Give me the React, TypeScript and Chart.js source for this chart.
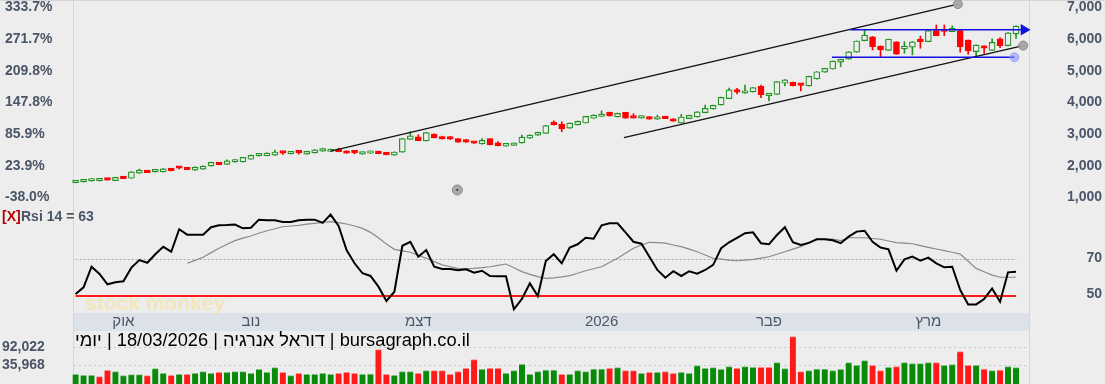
import React, { useEffect, useRef } from 'react';
import { Chart, registerables } from 'chart.js';

Chart.register(...registerables);

const FONT = "'Liberation Sans', Arial, sans-serif";
const AXIS_COLOR = '#4a5568';
const BG = '#ededed';

// ---------- DATA ----------
const opens = [1420,1445,1475,1480,1545,1485,1610,1560,1720,1765,1760,1760,1815,1890,1885,1815,1845,1950,2030,2000,
  2075,2075,2160,2265,2270,2290,2365,2330,2370,2320,2360,2415,2405,2465,2420,2370,2320,2350,2400,2365,
  2290,2385,2790,2870,2740,2955,2880,2870,2810,2725,2705,2645,2810,2680,2570,2600,2675,2825,2920,2980,
  3305,3265,3140,3245,3305,3455,3510,3640,3500,3640,3490,3460,3505,3425,3460,3440,3305,3445,3495,3630,
  3750,3875,4075,4325,4245,4285,4465,4170,4210,4560,4590,4510,4475,4695,4910,5010,5225,5320,5540,5905,
  6030,5735,5600,5865,5645,5700,5925,5875,6220,6215,6190,6220,5925,5560,5745,5600,5960,5745,6120];
const highs = [1490,1500,1550,1555,1555,1595,1620,1775,1850,1775,1845,1870,1860,1935,1890,1920,1950,2070,2035,2145,
  2150,2225,2290,2330,2360,2450,2400,2395,2410,2415,2465,2510,2480,2510,2425,2420,2390,2425,2405,2370,
  2395,2815,3030,2935,3005,2965,2890,2880,2815,2790,2710,2810,2815,2715,2665,2670,2925,2935,3015,3225,
  3375,3345,3310,3370,3520,3565,3690,3650,3620,3645,3600,3530,3510,3555,3515,3445,3580,3550,3665,3870,
  3870,4120,4410,4400,4505,4425,4505,4215,4615,4680,4595,4515,4785,4930,5035,5265,5320,5560,5900,6240,
  6035,5740,5955,5870,5875,5875,6050,6225,6400,6400,6370,6225,5930,5770,5750,5960,6000,6160,6370];
const lows = [1415,1440,1470,1475,1495,1480,1545,1555,1715,1735,1755,1755,1790,1850,1830,1810,1840,1945,1985,1995,
  2070,2070,2155,2260,2265,2285,2310,2325,2320,2315,2355,2410,2400,2395,2345,2330,2315,2345,2335,2300,
  2285,2380,2785,2745,2735,2835,2795,2790,2695,2695,2660,2640,2615,2585,2565,2595,2670,2820,2915,2975,
  3240,3030,3135,3240,3300,3450,3505,3520,3495,3450,3455,3455,3420,3420,3440,3355,3300,3440,3490,3625,
  3745,3870,4070,4220,4240,4280,4105,4000,4205,4480,4480,4320,4470,4690,4905,5005,5085,5315,5535,5900,
  5610,5370,5595,5470,5505,5455,5665,5870,6060,6060,6185,5540,5475,5400,5505,5595,5685,5740,5980];
const closes = [1483,1495,1545,1545,1500,1590,1550,1765,1820,1740,1820,1860,1800,1875,1835,1915,1945,2060,1990,2110,
  2145,2220,2285,2325,2355,2390,2355,2385,2360,2410,2460,2475,2470,2400,2350,2360,2385,2420,2340,2305,
  2390,2810,2900,2750,3000,2840,2800,2795,2700,2700,2665,2755,2620,2590,2660,2660,2860,2925,3010,3220,
  3245,3120,3305,3355,3515,3555,3555,3530,3610,3455,3460,3525,3425,3470,3445,3360,3495,3545,3660,3770,
  3860,4115,4355,4280,4300,4420,4200,4210,4610,4670,4485,4495,4780,4925,5030,5260,5315,5555,5895,6080,
  5715,5610,5950,5475,5735,5870,5875,6220,6065,6195,6295,5715,5580,5765,5665,5850,5745,6155,6365];

const volumes = [7380,4320,4320,230,19630,15550,3300,6360,6360,3300,24740,10440,4320,7380,7380,10440,15550,10440,13510,13510,
  15550,15550,10440,22700,13510,27800,13510,3300,10440,7380,7380,10440,7380,10440,13510,10440,7380,8400,82930,7380,
  4320,15550,15550,10440,18610,18610,18610,7380,15550,25760,52300,22700,25760,25760,10440,18610,38010,7380,15550,20650,
  20650,7380,7380,18610,15550,23720,23720,25760,27800,18610,18610,10440,13510,13510,15550,10440,13510,10440,33930,25760,
  27800,22700,30860,25760,30860,28820,28820,28820,43120,24740,122750,15550,18610,23720,23720,18610,22700,43120,34950,49240,
  34950,18610,28820,30860,43120,40050,40050,43120,43120,34950,36990,76810,34950,34950,23720,18610,20650,30860,27800];
const volumeDirection = ('uuudduuuud' + 'uududuuudu' + 'uuuuuududu' + 'uuuddduudd' + 'uuududdddd' +
  'dudduuuuuu' + 'uduuuuudud' + 'dududduuuu' + 'uuuduudduu' + 'dduuuuuuuu' + 'dduduuuudu' + 'uddududuu').split('');

const rsi14 = [50.9,54.6,66,62,56.3,57.4,58,65.5,69.7,68.2,72.9,77,74.3,86.7,83.7,83.7,83.7,87.8,88.9,89,
  89.3,87.2,87.5,92,91.7,91.7,90.7,90.7,91.7,92,92,90.2,94.8,88.5,75.2,67.9,62.4,60.9,55,47.1,
  52.2,77.6,79.8,71.5,75.2,66,64.8,64.8,64,64.6,62.7,63.8,60.9,60.7,60.7,42.5,48.2,56.8,49.8,69.2,
  72.9,67.9,76.6,78.4,82,81.5,88.9,90,90,85,79.8,78.7,71.5,64.2,59.9,63.5,60.9,63.5,62.2,64.2,
  67,76.2,79.5,82,84.5,85,79,78.4,83.5,87.8,79.5,78,79.2,81.2,81.2,80.6,79,82.6,85.4,85.9,
  79.8,76.6,75.6,63.8,70.1,71.6,69.3,71,67.9,65.7,66,53.1,45.2,45.2,48.2,54,46.7,62.9,63.2];
const rsiSignal = [null,null,null,null,null,null,null,null,null,null,null,null,null,null,
  67.9,69.5,71.2,73.8,76.2,78.4,80.4,81.8,83,84.5,85.9,87,88.1,88.5,88.9,89.5,90,90.5,90.9,90.4,89.6,88.5,87.2,85,82,78.5,
  75.6,74.8,74,72.3,70.7,68.8,67,66,65.1,65,65.1,65.5,66,66.8,67.5,65.4,63.3,61.8,60.5,59.6,
  59.8,60.4,61.1,62.4,63.8,64.9,66,68.3,70.7,73.5,76.2,78,79.5,79.3,79,78,77.1,75.7,74.3,72.5,
  70.7,70.2,69.7,69.3,69.7,70.1,70.8,71.5,72.9,74.3,75.7,77.1,79.2,81.2,81.2,81.2,80.4,82,82,82,
  81.6,81.2,80.2,79.3,79,78.7,77.7,76.7,75.8,74.9,74,73,69,65.1,63.2,61.4,60.2,60.2,60.2];

const priceTicks = [1000, 2000, 3000, 4000, 5000, 6000, 7000];
const percentBase = 1614.1;
const rsiTicks = [50, 70];
const rsiOverbought = 70;
const rsiMid = 50;
const volumeTicks = [35968, 92022];
const monthTickIdx = [6, 22, 43, 66, 87, 107];
const monthLabels = ['אוק', 'נוב', 'דצמ', '2026', 'פבר', 'מרץ'];

// drawn annotations (candle index, price)
const upperChannel = [{ x: 32, y: 2420 }, { x: 110.7, y: 7060 }];
const lowerChannel = [{ x: 68.8, y: 2840 }, { x: 118.9, y: 5750 }];
const resistanceLine = [{ x: 97.2, y: 6250 }, { x: 119.0, y: 6250 }];
const supportLine = [{ x: 94.9, y: 5380 }, { x: 117.8, y: 5380 }];
const strayAnchor = [{ x: 47.9, y: 1190 }];

const titleText = 'bursagraph.co.il | דוראל אנרגיה | 18/03/2026 | יומי';
const watermark = 'stock monkey';

// ---------- LAYOUT ----------
const X_MIN = -0.2;
const X_MAX = 119.63;
const P_MIN = 652.6;
const P_MAX = 7189.5;
const RSI_MIN = 40.44;
const RSI_MAX = 99.0;
const VOL_MIN = -22231;
const VOL_MAX = 140113;

const GREEN = '#229322';
const RED = '#ff0000';

const tickFont = { family: FONT, size: 14, weight: 'bold' as const };

function fit(width: number) {
  return (s: any) => {
    s.width = width;
    s.paddingTop = 0;
    s.paddingBottom = 0;
  };
}

function setTicks(values: number[]) {
  return (s: any) => {
    s.ticks = values.map((v) => ({ value: v }));
  };
}

function framePlugin(topLine: boolean) {
  return {
    id: 'frame',
    beforeDraw(chart: any) {
      const { ctx, width, height, chartArea } = chart;
      ctx.save();
      ctx.fillStyle = BG;
      ctx.fillRect(0, 0, width, height);
      ctx.fillStyle = '#d6d6d6';
      ctx.fillRect(Math.round(chartArea.left) - 1, 0, 1, height);
      ctx.fillRect(Math.round(chartArea.right), 0, 1, height);
      if (topLine) ctx.fillRect(0, 0, width, 1);
      ctx.restore();
    },
  };
}

const idx = closes.map((_, i) => i);
const isUp = idx.map((i) => closes[i] >= opens[i]);

export default function App() {
  const mainRef = useRef<HTMLCanvasElement>(null);
  const rsiRef = useRef<HTMLCanvasElement>(null);
  const volRef = useRef<HTMLCanvasElement>(null);

  useEffect(() => {
    document.body.style.margin = '0';
    document.body.style.background = BG;
    const charts: Chart[] = [];

    const gray = 'rgba(165,165,165,0.95)';
    const grayBorder = '#8a8a8a';

    // ---------- MAIN PRICE CHART ----------
    charts.push(
      new Chart(mainRef.current!, {
        type: 'bar',
        data: {
          datasets: [
            {
              data: idx.map((i) => ({ x: i, y: [lows[i], highs[i]] })),
              backgroundColor: idx.map((i) => (isUp[i] ? GREEN : RED)),
              borderWidth: 0,
              barThickness: 1,
              grouped: false,
              order: 5,
              clip: false,
            } as any,
            {
              data: idx.map((i) => ({ x: i, y: [opens[i], closes[i]] })),
              backgroundColor: idx.map((i) => (isUp[i] ? BG : RED)),
              borderColor: idx.map((i) => (isUp[i] ? GREEN : RED)),
              borderWidth: 1.2,
              borderSkipped: false,
              barThickness: 6,
              minBarLength: 2.5,
              grouped: false,
              order: 4,
              clip: false,
            } as any,
            {
              type: 'line',
              data: upperChannel,
              borderColor: '#111',
              borderWidth: 1.3,
              pointRadius: [0, 4.5],
              pointBackgroundColor: gray,
              pointBorderColor: grayBorder,
              pointBorderWidth: 1,
              order: 2,
              clip: false,
            } as any,
            {
              type: 'line',
              data: lowerChannel,
              borderColor: '#111',
              borderWidth: 1.3,
              pointRadius: [0, 4.5],
              pointBackgroundColor: gray,
              pointBorderColor: grayBorder,
              pointBorderWidth: 1,
              order: 2,
              clip: false,
            } as any,
            {
              type: 'line',
              data: resistanceLine,
              borderColor: '#1010e0',
              borderWidth: 1.5,
              pointRadius: [0, 5],
              pointStyle: 'triangle',
              pointRotation: 90,
              pointBackgroundColor: '#1010e0',
              pointBorderColor: '#1010e0',
              order: 1,
              clip: false,
            } as any,
            {
              type: 'line',
              data: supportLine,
              borderColor: '#1010e0',
              borderWidth: 1.5,
              pointRadius: [0, 4.5],
              pointBackgroundColor: 'rgba(130,140,255,0.55)',
              pointBorderColor: 'rgba(150,160,255,0.8)',
              pointBorderWidth: 1,
              order: 1,
              clip: false,
            } as any,
            {
              type: 'line',
              data: strayAnchor,
              showLine: false,
              pointRadius: 5,
              pointBackgroundColor: gray,
              pointBorderColor: grayBorder,
              pointBorderWidth: 1,
              order: 1,
              clip: false,
            } as any,
            {
              type: 'line',
              data: strayAnchor,
              showLine: false,
              pointRadius: 1,
              pointBackgroundColor: '#333',
              pointBorderWidth: 0,
              order: 0,
              clip: false,
            } as any,
          ],
        },
        options: {
          responsive: false,
          animation: false,
          events: [],
          layout: { autoPadding: false, padding: { left: 5, right: 3, top: 0, bottom: 0 } },
          plugins: { legend: { display: false }, tooltip: { enabled: false } },
          scales: {
            x: { type: 'linear', display: false, min: X_MIN, max: X_MAX, offset: false },
            y: {
              type: 'linear',
              position: 'right',
              min: P_MIN,
              max: P_MAX,
              afterBuildTicks: setTicks(priceTicks),
              afterFit: fit(73),
              grid: { display: false },
              border: { display: false },
              ticks: {
                color: AXIS_COLOR,
                font: tickFont,
                crossAlign: 'far',
                padding: 0,
                labelOffset: 1.5,
                callback: (v: any) => Number(v).toLocaleString('en-US'),
              },
            },
            yPct: {
              type: 'linear',
              position: 'left',
              min: (P_MIN / percentBase - 1) * 100,
              max: (P_MAX / percentBase - 1) * 100,
              afterBuildTicks: setTicks(priceTicks.map((p) => (p / percentBase - 1) * 100)),
              afterFit: fit(69),
              grid: { display: false },
              border: { display: false },
              ticks: {
                color: AXIS_COLOR,
                font: tickFont,
                crossAlign: 'far',
                padding: 0,
                labelOffset: 1.5,
                callback: (v: any) => Number(v).toFixed(1) + '%',
              },
            },
          },
        } as any,
        plugins: [framePlugin(true)],
      })
    );

    // ---------- RSI CHART ----------
    const rsiLabel = `Rsi 14 = ${Math.round(rsi14[rsi14.length - 1])}`;
    charts.push(
      new Chart(rsiRef.current!, {
        type: 'line',
        data: {
          datasets: [
            {
              data: rsi14.map((v, i) => ({ x: i, y: v })),
              borderColor: '#000',
              borderWidth: 2,
              pointRadius: 0,
              tension: 0,
              order: 1,
            },
            {
              data: rsiSignal.map((v, i) => ({ x: i, y: v })).filter((p) => p.y !== null),
              borderColor: '#8a8a8a',
              borderWidth: 1.2,
              pointRadius: 0,
              tension: 0,
              order: 2,
            },
          ],
        },
        options: {
          responsive: false,
          animation: false,
          events: [],
          layout: { autoPadding: false, padding: { left: 74, right: 3, top: 0, bottom: 0 } },
          plugins: { legend: { display: false }, tooltip: { enabled: false } },
          scales: {
            x: {
              type: 'linear',
              position: 'bottom',
              min: X_MIN,
              max: X_MAX,
              afterBuildTicks: setTicks(monthTickIdx),
              afterFit: (s: any) => {
                s.height = 18;
                s.paddingLeft = 0;
                s.paddingRight = 0;
              },
              grid: { display: false, drawTicks: false },
              border: { display: false },
              ticks: {
                autoSkip: false,
                maxRotation: 0,
                padding: 0,
                color: AXIS_COLOR,
                font: { family: FONT, size: 15 },
                callback: (v: any) => monthLabels[monthTickIdx.indexOf(Number(v))] ?? '',
              },
            },
            y: {
              type: 'linear',
              position: 'right',
              min: RSI_MIN,
              max: RSI_MAX,
              afterBuildTicks: setTicks(rsiTicks),
              afterFit: fit(73),
              grid: { display: false },
              border: { display: false },
              ticks: {
                color: AXIS_COLOR,
                font: tickFont,
                crossAlign: 'far',
                padding: 0,
                labelOffset: -1.5,
              },
            },
          },
        } as any,
        plugins: [
          framePlugin(false),
          {
            id: 'band',
            beforeDraw(chart: any) {
              const { ctx, chartArea, scales } = chart;
              ctx.save();
              ctx.fillStyle = '#dde2e9';
              ctx.fillRect(chartArea.left, chartArea.bottom, chartArea.right - chartArea.left, scales.x.height);
              ctx.restore();
            },
          },
          {
            id: 'rsiLevels',
            beforeDatasetsDraw(chart: any) {
              const { ctx, scales } = chart;
              const x0 = scales.x.getPixelForValue(0);
              const x1 = scales.x.getPixelForValue(rsi14.length - 1);
              ctx.save();
              // watermark
              ctx.font = `bold 21px ${FONT}`;
              ctx.fillStyle = 'rgba(255,214,80,0.32)';
              ctx.textBaseline = 'middle';
              ctx.fillText(watermark, 85, scales.y.getPixelForValue(45.5));
              // 70 level
              const y70 = Math.round(scales.y.getPixelForValue(rsiOverbought)) + 0.5;
              ctx.strokeStyle = '#a8a8a8';
              ctx.lineWidth = 1;
              ctx.setLineDash([2, 2]);
              ctx.beginPath();
              ctx.moveTo(x0, y70);
              ctx.lineTo(x1, y70);
              ctx.stroke();
              // 50 level
              const y50 = Math.round(scales.y.getPixelForValue(rsiMid));
              ctx.setLineDash([]);
              ctx.strokeStyle = '#ff1a1a';
              ctx.lineWidth = 2;
              ctx.beginPath();
              ctx.moveTo(x0, y50);
              ctx.lineTo(x1, y50);
              ctx.stroke();
              ctx.restore();
            },
            afterDraw(chart: any) {
              const { ctx } = chart;
              ctx.save();
              ctx.font = `bold 14px ${FONT}`;
              ctx.textBaseline = 'middle';
              ctx.fillStyle = '#b00000';
              ctx.fillText('[X]', 2, 10);
              ctx.fillStyle = AXIS_COLOR;
              ctx.fillText(rsiLabel, 21, 10);
              ctx.restore();
            },
          },
        ],
      })
    );

    // ---------- VOLUME CHART ----------
    charts.push(
      new Chart(volRef.current!, {
        type: 'bar',
        data: {
          datasets: [
            {
              data: volumes.map((v, i) => ({ x: i, y: v })),
              base: VOL_MIN,
              backgroundColor: volumes.map((_, i) => (volumeDirection[i] === 'u' ? '#098a09' : '#ff1a1a')),
              borderColor: volumes.map((_, i) => (volumeDirection[i] === 'u' ? '#7cc27c' : '#ff8c8c')),
              borderWidth: { top: 1, left: 0, right: 0, bottom: 0 },
              borderSkipped: false,
              barThickness: 6,
              grouped: false,
              clip: false,
            } as any,
          ],
        },
        options: {
          responsive: false,
          animation: false,
          events: [],
          layout: { autoPadding: false, padding: { left: 2, right: 76, top: 0, bottom: 0 } },
          plugins: { legend: { display: false }, tooltip: { enabled: false } },
          scales: {
            x: { type: 'linear', display: false, min: X_MIN, max: X_MAX, offset: false },
            y: {
              type: 'linear',
              position: 'left',
              min: VOL_MIN,
              max: VOL_MAX,
              afterBuildTicks: setTicks(volumeTicks),
              afterFit: fit(72),
              grid: { display: false },
              border: { display: false },
              ticks: {
                color: AXIS_COLOR,
                font: tickFont,
                crossAlign: 'far',
                padding: 0,
                callback: (v: any) => Number(v).toLocaleString('en-US'),
              },
            },
          },
        } as any,
        plugins: [
          framePlugin(false),
          {
            id: 'volGrid',
            beforeDatasetsDraw(chart: any) {
              const { ctx, chartArea, scales } = chart;
              ctx.save();
              ctx.strokeStyle = '#c9c9c9';
              ctx.lineWidth = 1;
              ctx.setLineDash([2, 3]);
              volumeTicks.forEach((t) => {
                const y = Math.round(scales.y.getPixelForValue(t)) + 0.5;
                ctx.beginPath();
                ctx.moveTo(chartArea.left, y);
                ctx.lineTo(chartArea.right, y);
                ctx.stroke();
              });
              ctx.restore();
            },
            afterDraw(chart: any) {
              const { ctx } = chart;
              ctx.save();
              ctx.font = `18.3px ${FONT}`;
              ctx.direction = 'rtl';
              ctx.textAlign = 'left';
              ctx.textBaseline = 'alphabetic';
              ctx.fillStyle = '#000';
              ctx.fillText(titleText, 75, 14.7);
              ctx.restore();
            },
          },
        ],
      })
    );

    return () => charts.forEach((c) => c.destroy());
  }, []);

  return (
    <div style={{ position: 'relative', width: 1105, height: 384, background: BG, overflow: 'hidden' }}>
      <canvas ref={mainRef} width={1105} height={207} style={{ position: 'absolute', left: 0, top: 0 }} />
      <canvas ref={rsiRef} width={1105} height={124} style={{ position: 'absolute', left: 0, top: 207 }} />
      <canvas ref={volRef} width={1105} height={53} style={{ position: 'absolute', left: 0, top: 331 }} />
    </div>
  );
}
